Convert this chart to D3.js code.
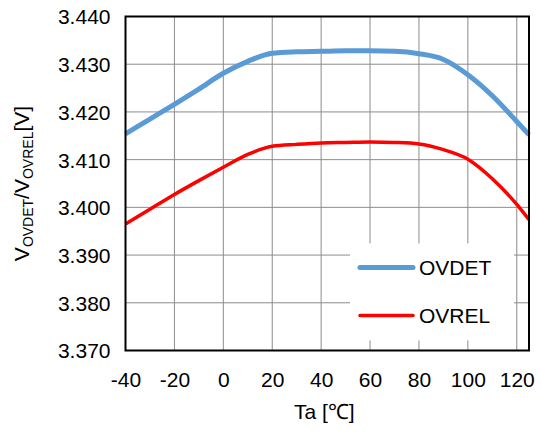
<!DOCTYPE html>
<html>
<head>
<meta charset="utf-8">
<script src="https://cdn.jsdelivr.net/npm/d3@7"></script>
<style>
  body { margin: 0; background: #fff; }
  svg { font-family: "Liberation Sans", Arial, sans-serif; }
</style>
</head>
<body>
<svg id="chart" width="542" height="432"></svg>
<script>
// temperatures (°C) and measured thresholds (V)
const temps = [-40, -30, -20, -10, 0, 10, 20, 30, 40, 50, 60, 70, 80, 90, 100, 110, 120, 125];
const ovdet = [3.4154, 3.4185, 3.4216, 3.4248, 3.4281, 3.4306, 3.4323, 3.4326, 3.4327, 3.4328, 3.4328, 3.4327, 3.4322, 3.4310, 3.4278, 3.4234, 3.4180, 3.4152];
const ovrel = [3.3965, 3.3996, 3.4027, 3.4056, 3.4084, 3.4111, 3.4128, 3.4132, 3.4135, 3.4136, 3.4137, 3.4136, 3.4133, 3.4121, 3.4101, 3.4060, 3.4006, 3.3974];
const xTicks = [-40, -20, 0, 20, 40, 60, 80, 100, 120];
const yTicks = [3.370, 3.380, 3.390, 3.400, 3.410, 3.420, 3.430, 3.440];
const seriesNames = ['OVDET', 'OVREL'];
const seriesColours = ['#5b9bd5', '#ff0000'];

const svg = d3.select('#chart');
const margin = {left: 125.5, top: 16.5, right: 13, bottom: 81.5};
const width = 542 - margin.left - margin.right;
const height = 432 - margin.top - margin.bottom;

const x = d3.scaleLinear().domain([-40, 125]).range([0, width]);
const y = d3.scaleLinear().domain([3.370, 3.440]).range([height, 0]);

const g = svg.append('g').attr('transform', `translate(${margin.left},${margin.top})`);

// grid
g.selectAll('line.vgrid').data(xTicks.slice(1)).join('line')
  .attr('class', 'vgrid')
  .attr('x1', d => x(d)).attr('x2', d => x(d))
  .attr('y1', 0).attr('y2', height)
  .attr('stroke', '#8c8c8c').attr('stroke-width', 1);
g.selectAll('line.hgrid').data(yTicks.slice(1, -1)).join('line')
  .attr('class', 'hgrid')
  .attr('x1', 0).attr('x2', width)
  .attr('y1', d => y(d)).attr('y2', d => y(d))
  .attr('stroke', '#8c8c8c').attr('stroke-width', 1);

// axes (labels only)
const xAxis = g.append('g').attr('transform', `translate(0,${height})`)
  .call(d3.axisBottom(x).tickValues(xTicks).tickSize(0).tickPadding(22).tickFormat(d => String(d)));
const yAxis = g.append('g')
  .call(d3.axisLeft(y).tickValues(yTicks).tickSize(0).tickPadding(15).tickFormat(d3.format('.3f')));
[xAxis, yAxis].forEach(a => {
  a.select('.domain').remove();
  a.selectAll('text').attr('font-size', 21).attr('fill', '#000')
    .attr('font-family', '"Liberation Sans", Arial, sans-serif');
});
yAxis.selectAll('text').attr('dy', '0.35em');

// series
const line = d3.line().x((d, i) => x(temps[i])).y(d => y(d)).curve(d3.curveMonotoneX);
g.append('path').datum(ovrel).attr('d', line)
  .attr('fill', 'none').attr('stroke', seriesColours[1]).attr('stroke-width', 3.5);
g.append('path').datum(ovdet).attr('d', line)
  .attr('fill', 'none').attr('stroke', seriesColours[0]).attr('stroke-width', 5);

// legend
const legend = g.append('g').attr('transform', `translate(${x(51.8)},${y(3.3893) - 15})`);
legend.append('rect').attr('width', 164).attr('height', 97).attr('fill', '#fff');
const item = legend.selectAll('g.item').data(seriesNames).join('g')
  .attr('class', 'item')
  .attr('transform', (d, i) => `translate(0,${24 + i * 48})`);
item.append('line').attr('x1', 10).attr('x2', 63).attr('y1', 0).attr('y2', 0)
  .attr('stroke', (d, i) => seriesColours[i])
  .attr('stroke-width', (d, i) => i === 0 ? 5 : 3.5)
  .attr('stroke-linecap', 'round');
item.append('text').attr('x', 69).attr('y', 7.5).attr('font-size', 21).text(d => d);

// frame
g.append('rect').attr('width', width).attr('height', height)
  .attr('fill', 'none').attr('stroke', '#000').attr('stroke-width', 2);

// titles
svg.append('text').attr('x', margin.left + width / 2 - 3).attr('y', 419)
  .attr('text-anchor', 'middle').attr('font-size', 21).text('Ta [℃]');

const yt = svg.append('text')
  .attr('transform', `translate(29,${margin.top + height / 2}) rotate(-90)`)
  .attr('text-anchor', 'middle').attr('font-size', 21);
yt.append('tspan').text('V');
yt.append('tspan').attr('font-size', 14).attr('dy', 4).text('OVDET');
yt.append('tspan').attr('dy', -4).text('/V');
yt.append('tspan').attr('font-size', 14).attr('dy', 4).text('OVREL');
yt.append('tspan').attr('dy', -4).text('[V]');
</script>
</body>
</html>
